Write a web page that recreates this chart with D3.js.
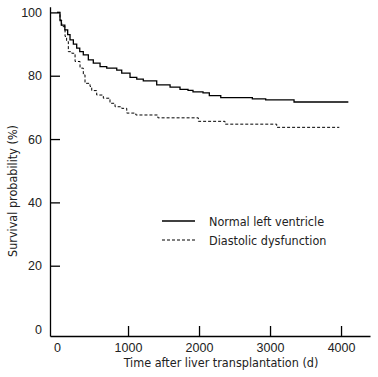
<!DOCTYPE html>
<html>
<head>
<meta charset="utf-8">
<script src="https://cdn.jsdelivr.net/npm/d3@7"></script>
<style>
  body { margin: 0; background: #fff; }
  svg { display: block; font-family: "DejaVu Sans Condensed", "DejaVu Sans", sans-serif; }
</style>
</head>
<body>
<svg id="chart" width="378" height="377"></svg>
<script>
// Kaplan-Meier steps: time of each drop (d) and survival after it (%)
const normalTimes = [0, 42, 60, 110, 150, 183, 230, 277, 320, 370, 441, 511, 606, 700, 841, 911, 1028, 1123, 1215, 1404, 1592, 1732, 1845, 1915, 2056, 2145, 2306, 2751, 2939, 3338, 4103];
const normalSurv  = [100, 97.4, 96, 94.5, 93, 91.3, 90, 88.7, 87.6, 86.6, 85.0, 84.0, 82.9, 82.4, 81.8, 80.8, 79.5, 78.9, 78.4, 77.1, 76.4, 75.7, 75.4, 74.9, 74.6, 73.7, 73.1, 72.7, 72.4, 71.7, 71.7];

const diastTimes = [0, 42, 66, 113, 135, 159, 207, 254, 324, 370, 394, 465, 489, 559, 652, 746, 817, 911, 982, 1110, 1420, 1990, 2366, 3094, 3976];
const diastSurv  = [100, 97.6, 95.5, 92.4, 90.8, 87.6, 87.1, 84.5, 82.4, 80.3, 77.6, 76.6, 75.3, 73.9, 72.9, 71.3, 70.2, 69.7, 68.2, 67.6, 66.7, 65.6, 64.7, 63.7, 63.7];

const xTicks = [0, 1000, 2000, 3000, 4000];
const yTicks = [0, 20, 40, 60, 80, 100];

const series = [
  { name: "Normal left ventricle", times: normalTimes, surv: normalSurv, dash: null, width: 1.3 },
  { name: "Diastolic dysfunction", times: diastTimes, surv: diastSurv, dash: "3,2", width: 1 }
];

const svg = d3.select("#chart");

const x = d3.scaleLinear().domain([-99, 4408]).range([50, 370]);
const y = d3.scaleLinear().domain([-2.2, 101.8]).range([336, 6.7]);

// x axis, ticks pointing up into the plot
const xAxis = svg.append("g")
  .attr("transform", "translate(0,336)")
  .call(d3.axisBottom(x).tickValues(xTicks).tickFormat(d3.format("d"))
    .tickSize(-10).tickPadding(7).tickSizeOuter(0));

// y axis, ticks pointing right
const yAxis = svg.append("g")
  .attr("transform", "translate(50,0)")
  .call(d3.axisLeft(y).tickValues(yTicks).tickFormat(d3.format("d"))
    .tickSize(-10).tickPadding(8).tickSizeOuter(0));

// no tick mark at zero on either axis
xAxis.selectAll(".tick").filter((d) => d === 0).select("line").remove();
yAxis.selectAll(".tick").filter((d) => d === 0).select("line").remove();

svg.selectAll(".domain").attr("stroke", "#000").attr("stroke-width", 1.3);
svg.selectAll(".tick line").attr("stroke", "#000").attr("stroke-width", 1.3);
svg.selectAll(".tick text").attr("fill", "#222").style("font-size", "12.5px").style("font-family", "inherit");

const line = d3.line()
  .x((d) => x(d[0]))
  .y((d) => y(d[1]))
  .curve(d3.curveStepAfter);

series.forEach((s) => {
  svg.append("path")
    .datum(s.times.map((t, i) => [t, s.surv[i]]))
    .attr("d", line)
    .attr("fill", "none")
    .attr("stroke", "#000")
    .attr("stroke-width", s.width)
    .attr("stroke-dasharray", s.dash);
});

// legend
const legend = svg.append("g").attr("transform", "translate(162,221)");
series.forEach((s, i) => {
  const row = legend.append("g").attr("transform", `translate(0,${i * 19})`);
  row.append("line")
    .attr("x1", 0).attr("x2", 33)
    .attr("stroke", "#000")
    .attr("stroke-width", s.width)
    .attr("stroke-dasharray", s.dash);
  row.append("text")
    .attr("x", 47).attr("y", 4.5)
    .attr("fill", "#222")
    .style("font-size", "12.5px")
    .text(s.name);
});

// axis titles
svg.append("text")
  .attr("x", 221).attr("y", 367)
  .attr("text-anchor", "middle")
  .attr("fill", "#222")
  .style("font-size", "12.5px")
  .text("Time after liver transplantation (d)");

svg.append("text")
  .attr("transform", "translate(17,191) rotate(-90)")
  .attr("text-anchor", "middle")
  .attr("fill", "#222")
  .style("font-size", "12.5px")
  .text("Survival probability (%)");
</script>
</body>
</html>
